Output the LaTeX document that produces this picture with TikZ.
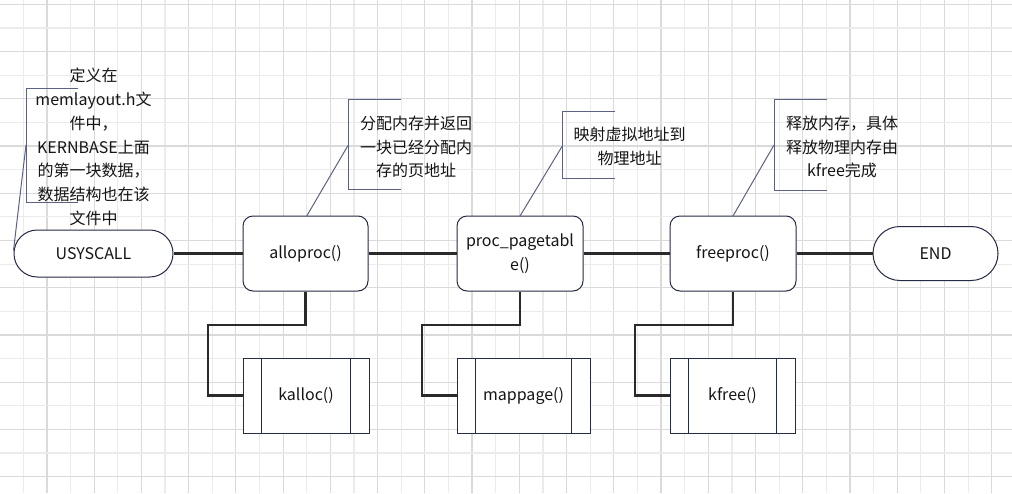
\documentclass[tikz,border=0pt]{standalone}
\usepackage{fontspec}
\setmainfont{Noto Sans CJK SC}
\definecolor{gridminor}{HTML}{EBEBEB}
\definecolor{gridmajor}{HTML}{DADADA}
\definecolor{edge}{HTML}{252A45}
\definecolor{note}{HTML}{5E6282}
\definecolor{wire}{HTML}{2A2A2A}
\definecolor{txt}{HTML}{151515}
\begin{document}
\begin{tikzpicture}[x=0.75pt,y=-0.75pt,
  every node/.style={font=\fontsize{12pt}{17.8pt}\selectfont, text=txt, inner sep=0pt},
  terminal/.style={draw=edge, line width=0.75pt, fill=white},
  procbox/.style={draw=edge, line width=0.75pt, fill=white, rounded corners=7.5pt,
    minimum height=56.25pt, align=center},
  subbox/.style={draw=edge, line width=0.75pt, fill=white, minimum height=56.25pt},
  wireline/.style={draw=wire, line width=1.6pt},
  bracket/.style={draw=note, line width=0.75pt},
  notetext/.style={align=center}]

% canvas and grid
\useasboundingbox (0,0) rectangle (1012,493);
\fill[white] (0,0) rectangle (1012,493);
\foreach \i in {0,...,42}{
  \pgfmathsetmacro{\gx}{23.3+23.62*\i}
  \pgfmathparse{isodd(\i)}
  \ifnum\pgfmathresult=1
    \draw[gridmajor, line width=0.9pt] (\gx,0) -- (\gx,493);
  \else
    \draw[gridminor, line width=0.9pt] (\gx,0) -- (\gx,493);
  \fi
}
\foreach \j in {0,...,20}{
  \pgfmathsetmacro{\gy}{4.3+23.62*\j}
  \pgfmathparse{isodd(\j)}
  \ifnum\pgfmathresult=0
    \draw[gridmajor, line width=0.9pt] (0,\gy) -- (1012,\gy);
  \else
    \draw[gridminor, line width=0.9pt] (0,\gy) -- (1012,\gy);
  \fi
}

% main flow
\node[terminal, rounded corners=17.5pt, minimum width=119.25pt, minimum height=35.25pt]
  (start) at (93.5,253.5) {USYSCALL};
\node[procbox, minimum width=93.75pt] (alloc) at (305.5,253.5) {alloproc()};
\node[procbox, minimum width=94.5pt] (pgtbl) at (520,253.5) {proc\_pagetabl\\e()};
\node[procbox, minimum width=94.5pt] (free) at (733,253.5) {freeproc()};
\node[terminal, rounded corners=20.2pt, minimum width=93.75pt, minimum height=40.5pt]
  (stop) at (935.5,253.5) {END};

\draw[wireline] (start.east) -- (alloc.west);
\draw[wireline] (alloc.east) -- (pgtbl.west);
\draw[wireline] (pgtbl.east) -- (free.west);
\draw[wireline] (free.east) -- (stop.west);

% subroutine boxes
\node[subbox, minimum width=94.5pt] (kalloc) at (306,395.5) {kalloc()};
\node[subbox, minimum width=99.75pt] (mappage) at (523.5,395.5) {mappage()};
\node[subbox, minimum width=93.75pt] (kfree) at (732.5,395.5) {kfree()};
\foreach \n in {kalloc,mappage,kfree}{
  \draw[edge, line width=0.75pt] ([xshift=14.25pt]\n.north west) -- ([xshift=14.25pt]\n.south west);
  \draw[edge, line width=0.75pt] ([xshift=-14.25pt]\n.north east) -- ([xshift=-14.25pt]\n.south east);
}

% elbow connectors down to the subroutines
\coordinate (bendA) at (208,325);
\coordinate (bendB) at (422,325);
\coordinate (bendC) at (635,325);
\draw[wireline] (alloc.south) |- (bendA) |- (kalloc.west);
\draw[wireline] (pgtbl.south) |- (bendB) |- (mappage.west);
\draw[wireline] (free.south) |- (bendC) |- (kfree.west);

% annotation brackets
\draw[bracket] (78,88) -- (26,88) -- (26,202) -- (78,202);
\coordinate (tipA) at (26,145);
\draw[bracket] (start.west) ++(0,-3) -- (tipA);
\node[notetext] (noteA) at (93.5,147) {定义在\\memlayout.h文\\件中，\\KERNBASE上面\\的第一块数据，\\数据结构也在该\\文件中};

\draw[bracket] (401,99.5) -- (348,99.5) -- (348,189) -- (401,189);
\coordinate (tipB) at (348,145.5);
\draw[bracket] (306.7,216) -- (tipB);
\node[notetext] (noteB) at (416,147) {分配内存并返回\\一块已经分配内\\存的页地址};

\draw[bracket] (615,111) -- (562,111) -- (562,178) -- (615,178);
\coordinate (tipC) at (562,146.5);
\draw[bracket] (520,216) -- (tipC);
\node[notetext] (noteC) at (629.5,146.5) {映射虚拟地址到\\物理地址};

\draw[bracket] (827,99.5) -- (774,99.5) -- (774,190) -- (827,190);
\coordinate (tipD) at (774,145);
\draw[bracket] (733,216) -- (tipD);
\node[notetext] (noteD) at (842,147) {释放内存，具体\\释放物理内存由\\kfree完成};
\end{tikzpicture}
\end{document}
